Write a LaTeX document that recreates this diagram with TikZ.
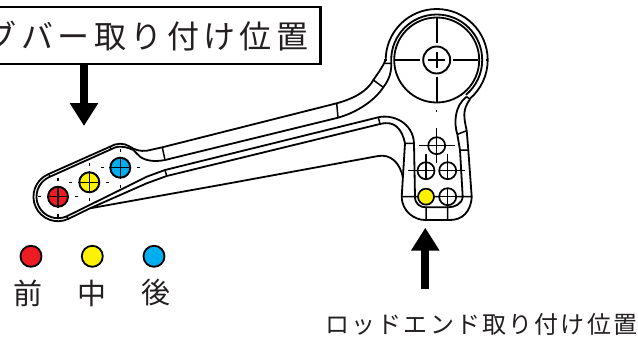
\documentclass[tikz,border=0pt]{standalone}
\usepackage{fontspec}
\usepackage{tikz}
\usetikzlibrary{arrows.meta}
\newfontfamily\jpfont{Noto Sans CJK JP}
\newfontfamily\jpwide[LetterSpace=14]{Noto Sans CJK JP}
\newfontfamily\jpnarrow[LetterSpace=9]{Noto Sans CJK JP}
\definecolor{redfill}{HTML}{ED1C24}
\definecolor{yellowfill}{HTML}{FFF200}
\definecolor{bluefill}{HTML}{00AEEF}
\definecolor{inkgray}{HTML}{231F20}
\tikzset{
	outline/.style={line width=1.8pt, line join=round},
	thinline/.style={line width=1.5pt},
	hole/.style={circle, draw, line width=1.9pt, minimum size=20pt, inner sep=0pt},
	lughole/.style={circle, draw, line width=1.7pt, minimum size=17pt, inner sep=0pt, fill=white},
	legenddot/.style={circle, draw, line width=1.8pt, minimum size=21pt, inner sep=0pt},
	legendtext/.style={text=inkgray, font=\jpfont\fontsize{29}{29}\selectfont, inner sep=0pt},
	bigarrow/.style={line width=8pt, -{Triangle[length=23pt, width=27pt]}},
}
\begin{document}
\begin{tikzpicture}[x=1pt, y=-1pt]
	\useasboundingbox (0,0) rectangle (638,338);
	\clip (0,0) rectangle (638,338);
	% labels and arrows
	\node[draw, line width=2.4pt, anchor=east, minimum height=57pt, inner xsep=12pt, inner ysep=0pt, text=inkgray,
		font=\jpwide\fontsize{32}{32}\selectfont] (barlabel) at (321.7,35.7) {ブバー取り付け位置};
	\coordinate (bartip) at (84,126);
	\draw[bigarrow] (barlabel.south -| bartip) -- (bartip);
	\node[anchor=east, inner sep=0pt, text=inkgray, font=\jpnarrow\fontsize{24}{24}\selectfont] (rodlabel) at (637.5,324) {ロッドエンド取り付け位置};
	\coordinate (rodtip) at (425.3,227.7);
	\coordinate (rodtail) at (425.3,289);
	\draw[bigarrow] (rodtail) -- (rodtip);
	% legend
	\node[legenddot, fill=redfill] (frontdot) at (31,256.3) {};
	\node[legenddot, fill=yellowfill] (middot) at (92.3,256.3) {};
	\node[legenddot, fill=bluefill] (reardot) at (154,256.3) {};
	\node[legendtext] (fronttext) at (28,293) {前};
	\node[legendtext] (midtext) at (92,293) {中};
	\node[legendtext] (reartext) at (156,293) {後};
	% arm, outer edge up to the big ring
	\draw[outline] (110,146.7) -- (47.6,174.5) arc[start angle=115, end angle=295, radius=24.5pt]
		-- (90,208.3) -- (146.7,183.3) -- (166.7,176) -- (380,124)
		.. controls (388,122) and (393,123.5) .. (396.7,126.7)
		.. controls (401,130.5) and (403.5,136) .. (405,143.3) -- (401.7,196.7)
		.. controls (402,212) and (415,220) .. (425,220) -- (450,220)
		.. controls (462,220) and (471,212) .. (471.7,196.7) -- (468.3,150) -- (466.7,130.7)
		.. controls (464,118) and (462,110) .. (470,99.3);
	\draw[outline] (110,146.7) .. controls (116,143) and (124,142.5) .. (130,146.7)
		.. controls (135,150) and (140,151.5) .. (147,150.7) -- (162.3,147.3) -- (336.7,103.3)
		.. controls (356,98) and (368,90) .. (373.3,80)
		.. controls (379,72) and (383,66) .. (385.7,60);
	\draw[outline] (111,149.3) -- (48.9,177.2) arc[start angle=115, end angle=295, radius=21.5pt]
		-- (120,190) -- (146.7,176.7) -- (165,170) -- (378.3,117.3)
		.. controls (392,114) and (413,122) .. (414,143.3) -- (415,196.7)
		.. controls (415,204) and (420,207.3) .. (426,207.3) -- (447.7,207.3)
		.. controls (455,207.3) and (462,204) .. (462.7,196.7) -- (460,150) -- (457.3,134.3)
		.. controls (454,124) and (454,106) .. (466.7,96.7);
	\draw[outline] (111,149.3) .. controls (116,146) and (124,145.5) .. (133.3,150)
		.. controls (136,152) and (137,154.5) .. (140,156.7)
		.. controls (146,161) and (155,162) .. (165,160) -- (338,117.7)
		.. controls (358,112) and (375,100) .. (383.3,87.3)
		.. controls (389,80) and (392,72) .. (391.2,60);
	\draw[outline] (90,208.3) -- (220,185) -- (378.3,156)
		.. controls (390,154) and (400,162) .. (403,178);
	% big ring
	\draw[outline] (385.7,60) arc[start angle=180, end angle=-50, radius=51pt];
	\draw[outline] (391.2,60) arc[start angle=180, end angle=-50, radius=45.5pt];
	\draw[outline] (436.7,60) circle[radius=42.5pt];
	\node[circle, draw, line width=1.9pt, minimum size=27pt, inner sep=0pt] (bighole) at (436.7,60) {};
	% section ticks
	\draw[thinline] (49.3,175) -- (50,177.3) (110,146.7) -- (111,149.3) (66.7,216.7) -- (68.3,218.9)
		(162.3,147.3) -- (165,160) (165,170) -- (166.7,176)
		(336.7,103.3) -- (338,117.7) (373.3,80) -- (383.3,87.3) (383.3,63.3) -- (391.7,63.3)
		(378.3,117.3) -- (380,124) (405,143.3) -- (414,143.3)
		(457.3,134.3) -- (466.7,130.7) (460,150) -- (468.3,150) (466.7,96.7) -- (470,99.3)
		(401.7,196.7) -- (471.7,196.7) (426,207.3) -- (426,220) (447.7,207.3) -- (447.7,220);
	% centre lines of the big ring
	\draw[outline] (395,60) -- (420,60) (453.3,60) -- (478.3,60) (436.7,18.3) -- (436.7,43.3) (436.7,76.7) -- (436.7,101.7)
		(428.3,60) -- (445,60) (436.7,52) -- (436.7,68);
	\draw[thinline] (436.7,8) -- (436.7,10) (383.5,60) -- (386.5,60) (485.5,60) -- (488,60) (436.7,109.5) -- (436.7,112);
	% holes of the arm
	\node[hole, fill=redfill] (redhole) at (58,196.7) {};
	\node[hole, fill=yellowfill] (yellowhole) at (89.3,182.3) {};
	\node[hole, fill=bluefill] (bluehole) at (120.3,167.7) {};
	\draw[thinline] (redhole.north) -- (redhole.south) (redhole.west) -- (redhole.east)
		(yellowhole.north) -- (yellowhole.south) (yellowhole.west) -- (yellowhole.east)
		(bluehole.north) -- (bluehole.south) (bluehole.west) -- (bluehole.east);
	\draw[thinline] (38,196.7) -- (41,196.7) (75,196.7) -- (78,196.7) (58,177.7) -- (58,180.7) (58,213.7) -- (58,216.7)
		(69.3,182.3) -- (72.3,182.3) (106.3,182.3) -- (109.3,182.3) (89.3,163.3) -- (89.3,166.3) (89.3,198.3) -- (89.3,201.3)
		(100.5,167.7) -- (103.5,167.7) (137,167.7) -- (140,167.7) (120.3,148.7) -- (120.3,151.7) (120.3,184.5) -- (120.3,187.5);
	% holes of the lug
	\node[lughole] (tophole) at (436.7,145.7) {};
	\node[lughole] (leftmid) at (426,170.7) {};
	\node[lughole] (rightmid) at (447.7,170.7) {};
	\node[lughole] (rightlow) at (447.7,196.7) {};
	\node[lughole, fill=yellowfill, minimum size=16pt] (yellowlow) at (426,196.7) {};
	\draw[thinline] (419.3,145.7) -- (455,145.7) (436.7,128.3) -- (436.7,163.3)
		(408.3,170.7) -- (435,170.7) (426,153.5) -- (426,180)
		(438.5,170.7) -- (465,170.7) (447.7,153.5) -- (447.7,180)
		(439,196.7) -- (456.7,196.7) (447.7,188) -- (447.7,207.3);
\end{tikzpicture}
\end{document}
